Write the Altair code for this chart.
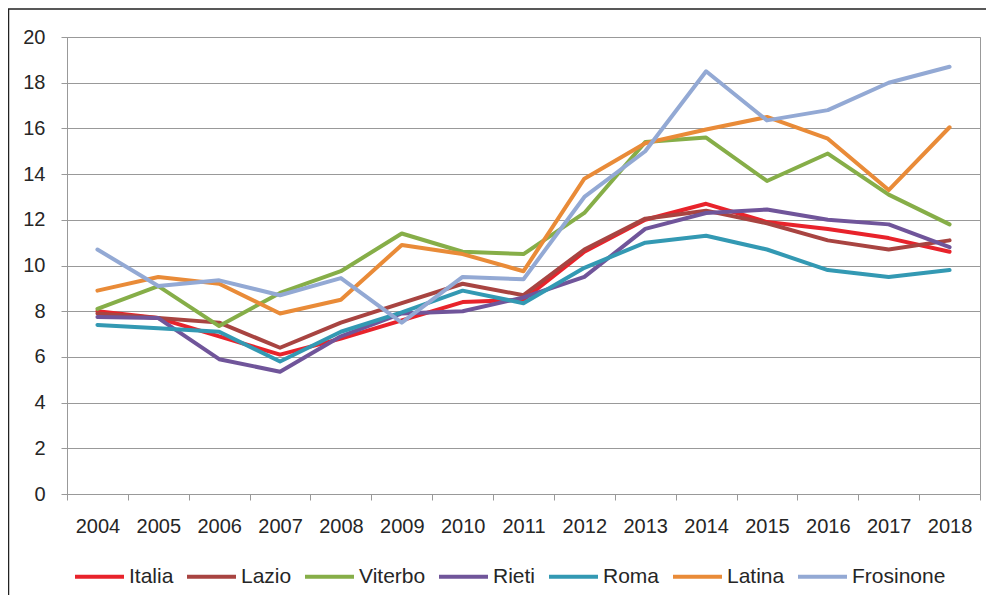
import altair as alt
import pandas as pd

years = [str(y) for y in range(2004, 2019)]
series_names = ["Italia", "Lazio", "Viterbo", "Rieti", "Roma", "Latina", "Frosinone"]
series_colors = ["#E8232B", "#A84441", "#86AE48", "#70559A", "#3399B3", "#E98B38", "#93A9D4"]

italia = [8.0, 7.7, 6.9, 6.1, 6.8, 7.6, 8.4, 8.5, 10.6, 12.0, 12.7, 11.9, 11.6, 11.2, 10.6]
lazio = [7.9, 7.7, 7.5, 6.4, 7.5, 8.35, 9.2, 8.7, 10.7, 12.05, 12.4, 11.85, 11.1, 10.7, 11.1]
viterbo = [8.1, 9.1, 7.35, 8.8, 9.75, 11.4, 10.6, 10.5, 12.3, 15.4, 15.6, 13.7, 14.9, 13.1, 11.8]
rieti = [7.75, 7.7, 5.9, 5.35, 6.9, 7.9, 8.0, 8.6, 9.5, 11.6, 12.3, 12.45, 12.0, 11.8, 10.8]
roma = [7.4, 7.25, 7.1, 5.8, 7.1, 7.95, 8.9, 8.35, 9.9, 11.0, 11.3, 10.7, 9.8, 9.5, 9.8]
latina = [8.9, 9.5, 9.2, 7.9, 8.5, 10.9, 10.5, 9.75, 13.8, 15.35, 15.95, 16.5, 15.55, 13.3, 16.05]
frosinone = [10.7, 9.1, 9.35, 8.7, 9.45, 7.5, 9.5, 9.4, 13.0, 15.0, 18.5, 16.35, 16.8, 18.0, 18.7]

all_values = [italia, lazio, viterbo, rieti, roma, latina, frosinone]
y_ticks = list(range(0, 21, 2))

rows = []
for name, vals in zip(series_names, all_values):
    for yr, v in zip(years, vals):
        rows.append({"Anno": yr, "Serie": name, "Valore": v})
df = pd.DataFrame(rows)

FONT = "Liberation Sans"

lines = alt.Chart(df).mark_line(strokeWidth=4, strokeJoin="round", strokeCap="round").encode(
    x=alt.X("Anno:N", sort=years, title=None,
            scale=alt.Scale(paddingInner=0, paddingOuter=0),
            axis=alt.Axis(labelAngle=0, tickBand="extent", tickSize=6, labelPadding=16,
                          labelFontSize=20, labelFont=FONT, labelColor="#262626",
                          domainColor="#999999", tickColor="#999999", grid=False)),
    y=alt.Y("Valore:Q", title=None,
            scale=alt.Scale(domain=[0, 20], nice=False, zero=True),
            axis=alt.Axis(values=y_ticks, tickSize=6, labelPadding=16, labelFontSize=20,
                          labelFont=FONT, labelColor="#262626", domainColor="#999999",
                          tickColor="#999999", gridColor="#999999", gridWidth=1)),
    color=alt.Color("Serie:N", sort=series_names, title=None,
                    scale=alt.Scale(domain=series_names, range=series_colors),
                    legend=alt.Legend(orient="none", direction="horizontal", legendX=6, legendY=513,
                                      symbolType="stroke", symbolSize=2401, symbolStrokeWidth=4,
                                      labelFontSize=21, labelFont=FONT, labelColor="#262626",
                                      labelOffset=3, columnPadding=5)),
)

frame = alt.Chart(alt.Data(values=[{}])).mark_rect(filled=False, stroke="#222222", strokeWidth=1.5).encode(
    x=alt.value(-58.5), x2=alt.value(922), y=alt.value(-28), y2=alt.value(620)
)

chart = alt.layer(lines, frame).properties(
    width=913, height=457,
    autosize=alt.AutoSizeParams(type="none"),
    padding={"left": 59, "top": 29, "right": 6, "bottom": 101},
    background="white",
).configure_view(stroke="#999999", strokeWidth=1)

chart.save("out.html", embed_options={"renderer": "svg", "actions": False})
